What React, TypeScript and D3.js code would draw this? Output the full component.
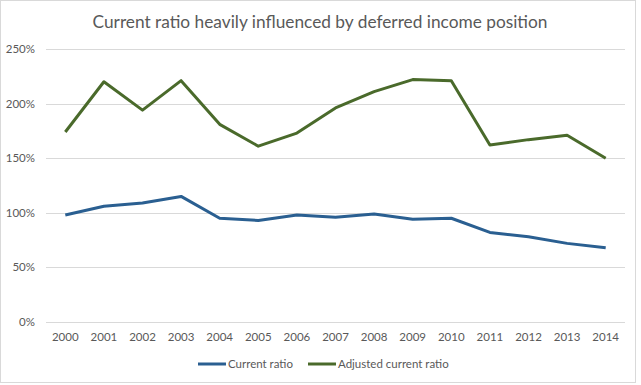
import React, { useEffect, useRef } from "react";
import * as d3 from "d3";

const years = ["2000", "2001", "2002", "2003", "2004", "2005", "2006", "2007", "2008", "2009", "2010", "2011", "2012", "2013", "2014"];
const currentRatio = [98, 106, 109, 115, 95, 93, 98, 96, 99, 94, 95, 82, 78, 72, 68];
const adjustedRatio = [174, 220, 194, 221, 181, 161, 173, 196, 211, 222, 221, 162, 167, 171, 150];
const yTicks = [0, 50, 100, 150, 200, 250];
const seriesNames = ["Current ratio", "Adjusted current ratio"];
const seriesColors = ["#2a5f91", "#4a6a2b"];

const App = () => {
  const svgRef = useRef<SVGSVGElement>(null);

  useEffect(() => {
    const width = 641, height = 385;
    const left = 46, right = 625, top = 49, bottom = 322;
    const font = "Lato, 'Open Sans', sans-serif";

    const svg = d3.select(svgRef.current)
      .attr("width", width)
      .attr("height", height);
    svg.selectAll("*").remove();

    svg.append("rect")
      .attr("x", 0.5).attr("y", 0.5)
      .attr("width", 635).attr("height", 382)
      .attr("fill", "#fff")
      .attr("stroke", "#d9d9d9");

    const x = d3.scalePoint().domain(years).range([left, right]).padding(0.5);
    const y = d3.scaleLinear().domain([0, 250]).range([bottom, top]);

    // gridlines
    svg.append("g")
      .selectAll("line")
      .data(yTicks)
      .enter().append("line")
      .attr("x1", left).attr("x2", right)
      .attr("y1", d => Math.round(y(d)) + 0.5)
      .attr("y2", d => Math.round(y(d)) + 0.5)
      .attr("stroke", "#d9d9d9");

    svg.append("g")
      .selectAll("text")
      .data(yTicks)
      .enter().append("text")
      .attr("x", 35)
      .attr("y", d => y(d) + 4)
      .attr("text-anchor", "end")
      .attr("font-family", font)
      .attr("font-size", 11.5)
      .attr("fill", "#595959")
      .text(d => d + "%");

    svg.append("g")
      .selectAll("text")
      .data(years)
      .enter().append("text")
      .attr("x", d => x(d))
      .attr("y", 341)
      .attr("text-anchor", "middle")
      .attr("font-family", font)
      .attr("font-size", 11.5)
      .attr("fill", "#595959")
      .text(d => d);

    const line = d3.line<number>()
      .x((d, i) => x(years[i]))
      .y(d => y(d));

    [currentRatio, adjustedRatio].forEach((s, i) => {
      svg.append("path")
        .datum(s)
        .attr("d", line)
        .attr("fill", "none")
        .attr("stroke", seriesColors[i])
        .attr("stroke-width", 3)
        .attr("stroke-linejoin", "round");
    });

    // legend
    const legendX = [198, 308];
    seriesNames.forEach((name, i) => {
      svg.append("line")
        .attr("x1", legendX[i]).attr("x2", legendX[i] + 28)
        .attr("y1", 364).attr("y2", 364)
        .attr("stroke", seriesColors[i])
        .attr("stroke-width", 3);
      svg.append("text")
        .attr("x", legendX[i] + 30)
        .attr("y", 368)
        .attr("font-family", font)
        .attr("font-size", 11.5)
        .attr("fill", "#595959")
        .text(name);
    });

    svg.append("text")
      .attr("x", 320)
      .attr("y", 28)
      .attr("text-anchor", "middle")
      .attr("font-family", font)
      .attr("font-size", 17.3)
      .attr("fill", "#595959")
      .text("Current ratio heavily influenced by deferred income position");
  }, []);

  return <svg ref={svgRef} style={{ position: "absolute", left: 0, top: 0 }}></svg>;
};

export default App;
